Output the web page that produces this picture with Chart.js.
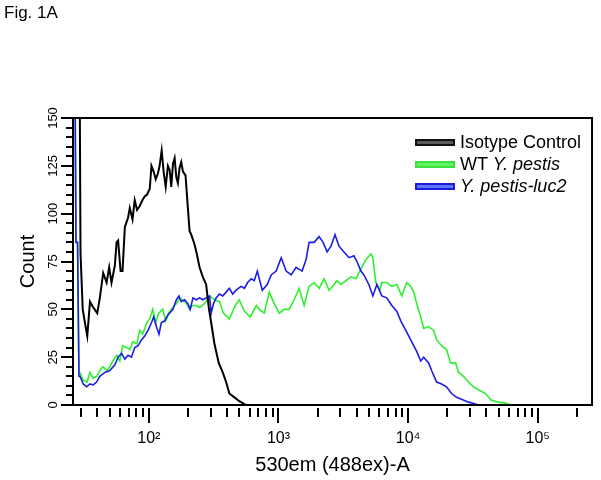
<!DOCTYPE html>
<html>
<head>
<meta charset="utf-8">
<script src="https://cdn.jsdelivr.net/npm/chart.js@4.4.1/dist/chart.umd.min.js"></script>
<style>
  body { margin: 0; background: #fff; }
  #wrap { position: relative; width: 601px; height: 480px; font-family: "Liberation Sans", Arial, sans-serif; color: #000; }
  #fig { position: absolute; left: 4px; top: 4px; font-size: 17px; line-height: 17px; }
  #legend { position: absolute; left: 415px; top: 131px; font-size: 18px; line-height: 22px; }
  .row { display: flex; align-items: center; white-space: nowrap; height: 22px; }
  .sw { width: 36px; height: 3px; margin-right: 5px; border: 2px solid; }
</style>
</head>
<body>
<div id="wrap">
  <canvas id="chart" width="601" height="480"></canvas>
  <div id="fig">Fig. 1A</div>
  <div id="legend"></div>
</div>
<script>
// histogram channels are given in decades (log10 of 530em intensity)
const seriesNames = ['Isotype Control', 'WT Y. pestis', 'Y. pestis-luc2'];
const legendMarkup = ['Isotype Control', 'WT <i>Y. pestis</i>', '<i>Y. pestis-luc2</i>'];
const xDecades = [100, 1000, 10000, 100000];
const xDecadeLabels = ['10²', '10³', '10⁴', '10⁵'];
const yLabels = [0, 25, 50, 75, 100, 125, 150];

const blackLog = [1.457, 1.473, 1.490, 1.507, 1.525, 1.546, 1.571, 1.602, 1.622, 1.648,
  1.674, 1.694, 1.712, 1.738, 1.751, 1.763, 1.782, 1.797, 1.815, 1.840,
  1.853, 1.874, 1.891, 1.909, 1.930, 1.950, 1.968, 1.986, 2.007, 2.020,
  2.037, 2.053, 2.070, 2.083, 2.099, 2.114, 2.130, 2.147, 2.160, 2.173,
  2.186, 2.199, 2.212, 2.224, 2.237, 2.250, 2.263, 2.283, 2.301, 2.314,
  2.327, 2.352, 2.370, 2.391, 2.416, 2.442, 2.462, 2.481, 2.506, 2.539,
  2.570, 2.596, 2.621, 2.660, 2.698, 2.750];
const blackCount = [300, 79, 50, 43, 36, 54, 51, 48, 56, 69,
  64, 72, 64, 73, 85, 86, 70, 70, 93, 98,
  103, 97, 107, 102, 104, 107, 109, 110, 113, 125,
  122, 118, 121, 125, 133, 122, 114, 125, 123, 114,
  126, 129, 119, 116, 124, 127, 122, 120, 103, 91,
  89, 84, 79, 72, 67, 63, 51, 43, 32, 22,
  17, 12, 6, 4, 2, 0];

const greenLog = [1.419, 1.438, 1.450, 1.461, 1.469, 1.492, 1.523, 1.546, 1.569, 1.599,
  1.622, 1.646, 1.676, 1.699, 1.722, 1.753, 1.776, 1.799, 1.830, 1.853,
  1.876, 1.907, 1.930, 1.953, 1.984, 2.007, 2.030, 2.053, 2.076, 2.107,
  2.130, 2.153, 2.183, 2.214, 2.237, 2.260, 2.291, 2.314, 2.337, 2.368,
  2.391, 2.429, 2.468, 2.506, 2.545, 2.575, 2.621, 2.667, 2.698, 2.737,
  2.783, 2.829, 2.852, 2.890, 2.929, 2.967, 3.006, 3.044, 3.082, 3.121,
  3.159, 3.198, 3.236, 3.275, 3.313, 3.352, 3.390, 3.428, 3.451, 3.482,
  3.520, 3.559, 3.597, 3.636, 3.674, 3.713, 3.728, 3.751, 3.782, 3.797,
  3.835, 3.874, 3.912, 3.951, 3.989, 4.020, 4.043, 4.066, 4.097, 4.120,
  4.158, 4.197, 4.220, 4.258, 4.296, 4.327, 4.366, 4.389, 4.427, 4.466,
  4.504, 4.542, 4.596, 4.642, 4.696, 4.750, 4.796];
const greenCount = [300, 85, 85, 17, 17, 13, 12, 17, 14, 15,
  18, 20, 18, 20, 23, 26, 23, 31, 30, 29,
  33, 32, 39, 37, 43, 45, 50, 43, 48, 50,
  44, 48, 51, 53, 56, 55, 53, 50, 52, 52,
  51, 53, 57, 55, 54, 48, 45, 52, 55, 49,
  46, 52, 50, 48, 59, 53, 48, 50, 50, 55,
  61, 52, 62, 64, 61, 66, 60, 63, 65, 63,
  65, 67, 66, 71, 76, 79, 77, 64, 60, 64,
  64, 62, 63, 57, 64, 62, 59, 53, 46, 40,
  41, 39, 34, 31, 29, 22, 22, 17, 15, 12,
  9.5, 8, 6, 2.5, 1.5, 1, 0];

const blueLog = [1.419, 1.438, 1.450, 1.461, 1.469, 1.494, 1.520, 1.546, 1.571, 1.597,
  1.622, 1.661, 1.699, 1.738, 1.763, 1.789, 1.815, 1.840, 1.866, 1.891,
  1.917, 1.943, 1.968, 1.994, 2.020, 2.037, 2.058, 2.078, 2.096, 2.122,
  2.147, 2.186, 2.212, 2.232, 2.250, 2.276, 2.301, 2.319, 2.340, 2.366,
  2.391, 2.416, 2.442, 2.468, 2.481, 2.499, 2.519, 2.545, 2.570, 2.596,
  2.621, 2.647, 2.673, 2.711, 2.737, 2.762, 2.790, 2.813, 2.837, 2.875,
  2.913, 2.944, 2.982, 3.021, 3.059, 3.098, 3.136, 3.182, 3.213, 3.236,
  3.275, 3.313, 3.344, 3.375, 3.405, 3.436, 3.467, 3.505, 3.544, 3.582,
  3.605, 3.636, 3.659, 3.697, 3.728, 3.759, 3.797, 3.835, 3.874, 3.912,
  3.943, 3.982, 4.020, 4.043, 4.066, 4.097, 4.120, 4.158, 4.181, 4.220,
  4.258, 4.296, 4.335, 4.373, 4.412, 4.466, 4.519, 4.542];
const blueCount = [300, 85, 85, 15, 15, 11, 9.5, 11, 10.5, 12,
  15, 17, 18, 21, 25, 27, 24, 26, 25, 30,
  31, 34, 36, 39, 43, 46, 41, 37, 43, 44,
  47, 50, 55, 57, 54, 55, 53, 50, 56, 55,
  56, 55, 56, 57, 48, 53, 56, 58, 57, 59,
  61, 58, 60, 62, 61, 64, 66, 65, 70, 60,
  63, 68, 70, 77, 70, 68, 72, 70, 76, 85,
  85, 88, 85, 80, 83, 89, 83, 80, 77, 78,
  75, 70, 68, 63, 57, 63, 57, 56, 52, 49,
  44, 39, 34, 31, 28, 23, 25, 22, 18, 12,
  11, 9.5, 6, 4, 3, 1.5, 0.5, 0];

const lineColors = ['#000000', '#2ef02e', '#1c1ce6'];
const swatchFill = ['#5a5a5a', '#5ef55e', '#5a78ff'];
const swatchEdge = ['#111111', '#3fe03f', '#1a1ad8'];

const toPoints = (logs, counts) => logs.map((l, i) => ({ x: Math.pow(10, l), y: counts[i] }));

const FONT = "'Liberation Sans', Arial, sans-serif";
Chart.defaults.font.family = FONT;
Chart.defaults.color = '#000';

// frame around plot + outside tick marks (major ones longer)
const frameTicks = {
  id: 'frameTicks',
  afterDraw(chart) {
    const { ctx, chartArea: a, scales: { x, y } } = chart;
    ctx.save();
    ctx.strokeStyle = '#000';
    ctx.lineWidth = 2;
    ctx.strokeRect(a.left, a.top, a.right - a.left, a.bottom - a.top);
    ctx.beginPath();
    x.ticks.forEach(t => {
      const px = Math.round(x.getPixelForValue(t.value));
      const len = t.major ? 15 : 9;
      ctx.moveTo(px, a.bottom + 3);
      ctx.lineTo(px, a.bottom + 3 + len);
    });
    y.ticks.forEach(t => {
      const py = Math.round(y.getPixelForValue(t.value));
      const len = yLabels.includes(t.value) ? 11 : 6;
      ctx.moveTo(a.left - 1, py);
      ctx.lineTo(a.left - 1 - len, py);
    });
    ctx.stroke();
    ctx.restore();
  }
};

new Chart(document.getElementById('chart'), {
  type: 'line',
  data: {
    datasets: [
      { label: seriesNames[0], data: toPoints(blackLog, blackCount), borderColor: lineColors[0], borderWidth: 2, order: 0 },
      { label: seriesNames[1], data: toPoints(greenLog, greenCount), borderColor: lineColors[1], borderWidth: 1.6, order: 2 },
      { label: seriesNames[2], data: toPoints(blueLog, blueCount), borderColor: lineColors[2], borderWidth: 1.6, order: 1 }
    ]
  },
  options: {
    responsive: false,
    animation: false,
    layout: { padding: { top: 118, right: 7, left: 0, bottom: 0 } },
    elements: { point: { radius: 0 }, line: { tension: 0 } },
    plugins: { legend: { display: false }, tooltip: { enabled: false } },
    scales: {
      x: {
        type: 'logarithmic',
        min: 26,
        max: 262144,
        grid: { display: false, drawTicks: false },
        border: { display: false },
        afterBuildTicks(scale) {
          const vals = [];
          for (let d = 10; d <= 100000; d *= 10) {
            for (let m = 1; m <= 9; m++) {
              const v = d * m;
              if (v >= 30 && v <= 200000) vals.push(v);
            }
          }
          scale.ticks = vals.map(v => ({ value: v, major: xDecades.includes(v) }));
        },
        afterFit(scale) { scale.height = 75; },
        ticks: {
          autoSkip: false,
          minRotation: 0,
          maxRotation: 0,
          padding: 24,
          font: { size: 16 },
          callback(value) {
            const i = xDecades.indexOf(value);
            return i >= 0 ? xDecadeLabels[i] : '';
          }
        },
        title: { display: true, text: '530em (488ex)-A', font: { size: 20 }, padding: { top: 0, bottom: 3 } }
      },
      y: {
        min: 0,
        max: 150,
        grid: { display: false, drawTicks: false },
        border: { display: false },
        afterFit(scale) { scale.width = 73; },
        ticks: {
          stepSize: 5,
          autoSkip: false,
          minRotation: 90,
          maxRotation: 90,
          crossAlign: 'center',
          padding: 9,
          font: { size: 13 },
          callback(value) { return yLabels.includes(value) ? String(value) : ''; }
        },
        title: { display: true, text: 'Count', font: { size: 20 }, padding: { top: 16, bottom: 0 } }
      }
    }
  },
  plugins: [frameTicks]
});

const legend = document.getElementById('legend');
legendMarkup.forEach((html, i) => {
  const row = document.createElement('div');
  row.className = 'row';
  row.innerHTML = '<span class="sw" style="background:' + swatchFill[i] + ';border-color:' + swatchEdge[i] + '"></span><span>' + html + '</span>';
  legend.appendChild(row);
});
</script>
</body>
</html>
